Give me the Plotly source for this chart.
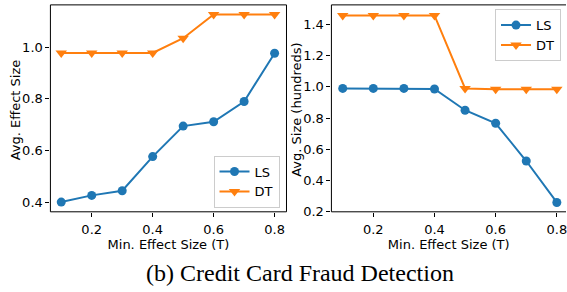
import plotly.graph_objects as go

x_vals = [0.1, 0.2, 0.3, 0.4, 0.5, 0.6, 0.7, 0.8]

ls_effect = [0.400, 0.426, 0.444, 0.576, 0.694, 0.711, 0.789, 0.976]
dt_effect = [0.977, 0.977, 0.977, 0.977, 1.034, 1.126, 1.126, 1.126]

ls_size = [0.99, 0.99, 0.99, 0.986, 0.850, 0.766, 0.524, 0.258]
dt_size = [1.458, 1.458, 1.458, 1.458, 0.990, 0.985, 0.985, 0.985]

x_ticks = [0.2, 0.4, 0.6, 0.8]
y1_ticks = [0.4, 0.6, 0.8, 1.0]
y2_ticks = [0.2, 0.4, 0.6, 0.8, 1.0, 1.2, 1.4]

x_title = "Min. Effect Size (T)"
y1_title = "Avg. Effect Size"
y2_title = "Avg. Size (hundreds)"
caption = "(b) Credit Card Fraud Detection"

BLUE = "#1f77b4"
ORANGE = "#ff7f0e"
FONT = "DejaVu Sans"

W, H = 567, 292

fig = go.Figure()

def add_series(xa, ya, ys_ls, ys_dt, legend):
    fig.add_trace(go.Scatter(x=x_vals, y=ys_ls, mode="lines+markers", name="LS",
                             xaxis=xa, yaxis=ya, legend=legend,
                             line=dict(color=BLUE, width=2),
                             marker=dict(symbol="circle", size=9, color=BLUE)))
    fig.add_trace(go.Scatter(x=x_vals, y=ys_dt, mode="lines+markers", name="DT",
                             xaxis=xa, yaxis=ya, legend=legend,
                             line=dict(color=ORANGE, width=2),
                             marker=dict(symbol="triangle-down", size=10, color=ORANGE)))

add_series("x", "y", ls_effect, dt_effect, "legend")
add_series("x2", "y2", ls_size, dt_size, "legend2")

x1d = [50.5 / W, 287 / W]
x2d = [332 / W, 1.0]
yd = [1 - 217 / H, 1 - 5 / H]

axis_common = dict(showgrid=False, zeroline=False, ticks="outside", ticklen=4,
                   tickwidth=0.8, tickcolor="black", showline=False,
                   ticklabeloverflow="allow",
                   tickfont=dict(family=FONT, size=13, color="black"))

fig.update_layout(
    width=W, height=H,
    margin=dict(l=0, r=0, t=0, b=0),
    paper_bgcolor="white", plot_bgcolor="white",
    font=dict(family=FONT, size=13, color="black"),
    xaxis=dict(domain=x1d, anchor="y", range=[0.0645, 0.839], tickvals=x_ticks,
               ticktext=[f"{v:.1f}" for v in x_ticks], ticklabelstandoff=2,
               title=dict(text=x_title, standoff=3,
                          font=dict(family=FONT, size=13)), **axis_common),
    yaxis=dict(domain=yd, anchor="x", range=[0.3625, 1.163], tickvals=y1_ticks,
               ticktext=[f"{v:.1f}" for v in y1_ticks], **axis_common),
    xaxis2=dict(domain=x2d, anchor="y2", range=[0.063, 0.830], tickvals=x_ticks,
                ticktext=[f"{v:.1f}" for v in x_ticks], ticklabelstandoff=2,
                title=dict(text=x_title, standoff=3,
                           font=dict(family=FONT, size=13)), **axis_common),
    yaxis2=dict(domain=yd, anchor="x2", range=[0.198, 1.526], tickvals=y2_ticks,
                ticktext=[f"{v:.1f}" for v in y2_ticks], **axis_common),
    legend=dict(x=280 / W, y=1 - 186 / H, xanchor="right", yanchor="middle",
                bgcolor="rgba(255,255,255,0.8)", bordercolor="#cccccc", borderwidth=1,
                font=dict(family=FONT, size=13), tracegroupgap=0, itemwidth=30),
    legend2=dict(x=562 / W, y=1 - 36 / H, xanchor="right", yanchor="middle",
                 bgcolor="rgba(255,255,255,0.8)", bordercolor="#cccccc", borderwidth=1,
                 font=dict(family=FONT, size=13), tracegroupgap=0, itemwidth=30),
    showlegend=True,
)

shapes = []
segs = {"l": (0, 0, 0, 1), "r": (1, 0, 1, 1), "t": (0, 1, 1, 1), "b": (0, 0, 1, 0)}
for xr, yr, sides in [("x domain", "y domain", ["l", "r", "t", "b"]),
                      ("x2 domain", "y2 domain", ["l", "t", "b"])]:
    for s in sides:
        x0, y0, x1, y1 = segs[s]
        shapes.append(dict(type="line", xref=xr, yref=yr, x0=x0, y0=y0, x1=x1, y1=y1,
                           line=dict(color="black", width=1), layer="above"))
fig.update_layout(shapes=shapes)

# y-axis titles
for txt, xp in [(y1_title, 15), (y2_title, 297)]:
    fig.add_annotation(text=txt, xref="paper", yref="paper", x=xp / W, y=1 - 112 / H,
                       xanchor="center", yanchor="middle", textangle=-90, showarrow=False,
                       font=dict(family=FONT, size=13, color="black"))

fig.add_annotation(text=caption, xref="paper", yref="paper",
                   x=300.5 / W, y=1 - 280 / H, xanchor="center", yanchor="middle",
                   showarrow=False,
                   font=dict(family="Liberation Serif", size=24, color="black"))

fig.write_html("out.html", config={"displayModeBar": False},
               post_script="document.body.style.margin='0';document.body.style.padding='0';")
